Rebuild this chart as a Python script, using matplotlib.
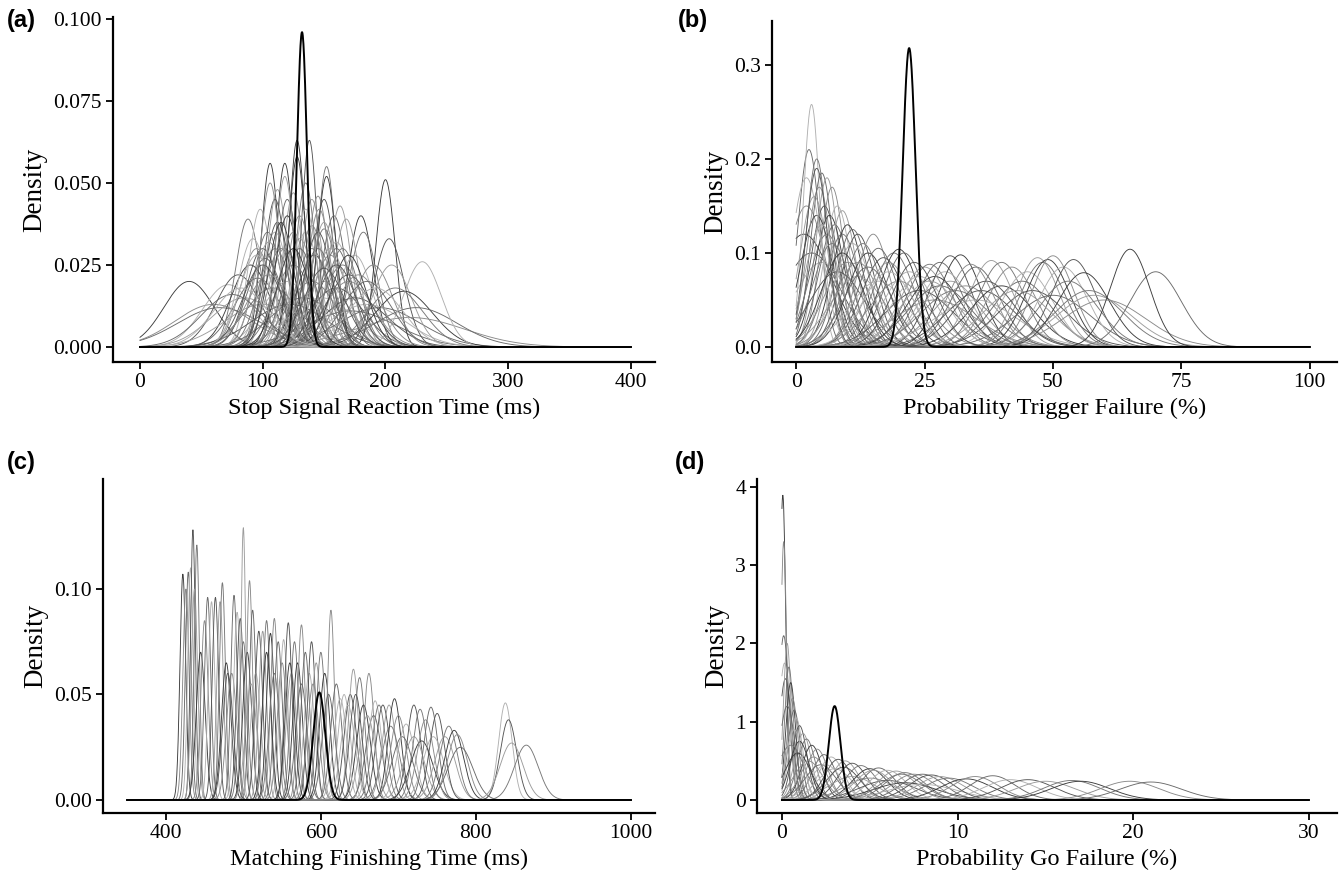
import math
import numpy as np
import matplotlib
matplotlib.use("Agg")
import matplotlib.pyplot as plt

# Peak position and peak height of each participant's posterior density,
# read off the picture. The highlighted (black) curve is kept separately.

# (a) Stop Signal Reaction Time (ms)
ssrt_peak = [40, 60, 65, 72, 80, 85, 88, 90, 95, 96,
             98, 100, 100, 104, 106, 106, 108, 110, 110, 112,
             115, 118, 118, 120, 120, 122, 125, 125, 128, 130,
             133, 135, 138, 140, 140, 142, 145, 145, 148, 150,
             150, 152, 152, 155, 158, 160, 160, 163, 165, 180,
             170, 172, 175, 175, 168, 182, 200, 190, 195, 185,
             203, 205, 208, 215, 220, 225, 230, 112, 130, 150,
             120, 140, 160, 92, 170, 118, 135, 128, 146, 102,
             95, 100, 105, 110, 115, 125, 130, 135, 145, 155,
             165, 170, 178, 185, 192, 160, 150, 140, 125, 105,
             75, 82, 150]
ssrt_height = [0.020, 0.013, 0.012, 0.019, 0.022, 0.015, 0.039, 0.025, 0.030, 0.021,
               0.042, 0.030, 0.013, 0.035, 0.056, 0.050, 0.018, 0.035, 0.045, 0.048,
               0.030, 0.056, 0.030, 0.045, 0.020, 0.013, 0.047, 0.025, 0.063, 0.040,
               0.015, 0.035, 0.063, 0.045, 0.020, 0.028, 0.046, 0.030, 0.015, 0.045,
               0.020, 0.055, 0.052, 0.028, 0.040, 0.032, 0.018, 0.043, 0.025, 0.040,
               0.020, 0.011, 0.028, 0.015, 0.039, 0.035, 0.051, 0.025, 0.012, 0.013,
               0.033, 0.025, 0.018, 0.017, 0.009, 0.012, 0.026, 0.038, 0.033, 0.036,
               0.040, 0.037, 0.030, 0.033, 0.022, 0.052, 0.050, 0.058, 0.042, 0.027,
               0.028, 0.025, 0.032, 0.030, 0.038, 0.035, 0.030, 0.042, 0.035, 0.030,
               0.030, 0.028, 0.022, 0.020, 0.018, 0.025, 0.038, 0.030, 0.030, 0.022,
               0.016, 0.018, 0.024]
ssrt_group = (132, 0.096)

# (b) Probability Trigger Failure (%)
tf_peak = [1.5, 2, 2.5, 3, 3, 3.5, 4, 4, 4.5, 5,
           5, 5.5, 6, 6, 6.5, 7, 7.5, 8, 8, 9,
           9, 10, 10, 11, 11, 12, 12, 13, 14, 15,
           16, 16, 17, 18, 19, 20, 20, 21, 22, 24,
           25, 26, 27, 27, 28, 29, 30, 30, 31, 32,
           33, 35, 35, 36, 38, 40, 40, 42, 44, 45,
           46, 47, 48, 49, 50, 50, 52, 54, 58, 57,
           56, 60, 70, 24, 37, 43, 53, 65, 34, 28,
           2, 4, 5, 7, 9, 12, 14, 18, 23, 26]
tf_height = [0.12, 0.15, 0.21, 0.258, 0.10, 0.16, 0.20, 0.14, 0.17, 0.185,
             0.09, 0.15, 0.18, 0.12, 0.14, 0.17, 0.13, 0.15, 0.08, 0.145,
             0.12, 0.13, 0.09, 0.125, 0.11, 0.12, 0.075, 0.11, 0.10, 0.12,
             0.105, 0.07, 0.095, 0.09, 0.10, 0.104, 0.07, 0.10, 0.08, 0.06,
             0.085, 0.088, 0.075, 0.05, 0.09, 0.08, 0.097, 0.07, 0.06, 0.098,
             0.065, 0.085, 0.05, 0.06, 0.092, 0.09, 0.065, 0.085, 0.07, 0.08,
             0.06, 0.095, 0.09, 0.093, 0.097, 0.055, 0.085, 0.093, 0.055, 0.06,
             0.079, 0.05, 0.08, 0.075, 0.07, 0.06, 0.07, 0.104, 0.088, 0.065,
             0.18, 0.19, 0.13, 0.11, 0.10, 0.09, 0.085, 0.08, 0.09, 0.07]
tf_group = (22, 0.318)

# (c) Matching Finishing Time (ms)
mft_peak = [422, 426, 429, 432, 435, 437, 440, 445, 450, 454,
            459, 464, 470, 473, 478, 485, 488, 492, 496, 500,
            500, 505, 508, 512, 516, 520, 525, 530, 535, 540,
            545, 552, 558, 562, 566, 570, 575, 580, 585, 588,
            594, 600, 605, 613, 620, 630, 638, 642, 650, 655,
            662, 668, 670, 680, 688, 690, 695, 700, 705, 710,
            720, 720, 728, 730, 735, 742, 745, 750, 760, 765,
            772, 776, 780, 838, 842, 846, 865, 530, 550, 575,
            625, 480, 510, 540, 560, 590, 610, 635, 645, 660,
            675]
mft_height = [0.107, 0.100, 0.108, 0.110, 0.128, 0.100, 0.121, 0.070, 0.085, 0.096,
              0.094, 0.096, 0.094, 0.103, 0.065, 0.060, 0.097, 0.089, 0.086, 0.129,
              0.075, 0.070, 0.104, 0.090, 0.060, 0.080, 0.080, 0.085, 0.079, 0.086,
              0.075, 0.076, 0.084, 0.060, 0.075, 0.065, 0.083, 0.070, 0.060, 0.075,
              0.065, 0.070, 0.060, 0.090, 0.055, 0.050, 0.050, 0.062, 0.058, 0.045,
              0.060, 0.040, 0.047, 0.045, 0.045, 0.035, 0.048, 0.040, 0.030, 0.036,
              0.045, 0.030, 0.043, 0.028, 0.038, 0.044, 0.030, 0.041, 0.030, 0.035,
              0.033, 0.031, 0.025, 0.046, 0.038, 0.027, 0.026, 0.070, 0.065, 0.055,
              0.048, 0.060, 0.055, 0.060, 0.065, 0.055, 0.050, 0.045, 0.050, 0.040,
              0.045]
mft_group = (598, 0.051)

# (d) Probability Go Failure (%)
gf_peak = [0.05, 0.1, 0.1, 0.15, 0.2, 0.3, 0.4, 0.5, 0.6, 0.7,
           0.8, 1.0, 1.2, 1.4, 1.7, 2.0, 2.4, 2.8, 3.2, 3.6,
           0.5, 0.9, 1.5, 2.2, 3.0, 4.0, 4.0, 4.5, 5.0, 5.0,
           5.5, 6.0, 6.0, 6.5, 7.0, 7.0, 7.5, 8.0, 8.0, 8.5,
           9.0, 9.5, 10.5, 11.0, 12.0, 13.0, 14.0, 15.0, 16.5, 17.0,
           19.8, 21.0, 2.5, 3.5, 5.2, 6.8, 1.0, 1.8, 0.3, 0.7]
gf_height = [3.9, 3.3, 2.1, 1.75, 1.55, 2.0, 1.7, 1.5, 1.3, 1.15,
             1.05, 0.95, 0.85, 0.78, 0.7, 0.65, 0.58, 0.55, 0.52, 0.5,
             0.7, 0.6, 0.5, 0.45, 0.4, 0.47, 0.3, 0.44, 0.4, 0.28,
             0.41, 0.38, 0.25, 0.37, 0.35, 0.22, 0.33, 0.33, 0.2, 0.32,
             0.30, 0.28, 0.27, 0.30, 0.31, 0.26, 0.26, 0.24, 0.25, 0.24,
             0.24, 0.23, 0.45, 0.42, 0.38, 0.33, 0.75, 0.55, 1.2, 0.9]
gf_group = (3.0, 1.2)


greys = ["#3c3c3c", "#8a8a8a", "#6a6a6a", "#b0b0b0", "#555555", "#9c9c9c", "#777777"]


def density(x, c, h, lo, hi):
    # bell curve with peak h at c, width chosen so the area on [lo, hi] is 1
    sd = 1 / (h * math.sqrt(2 * math.pi))
    for _ in range(40):
        frac = 0.5 * (math.erf((hi - c) / (sd * math.sqrt(2))) - math.erf((lo - c) / (sd * math.sqrt(2))))
        sd = 1 / (h * math.sqrt(2 * math.pi) * frac)
    return h * np.exp(-0.5 * ((x - c) / sd) ** 2)


W, H = 1341, 877
fig = plt.figure(figsize=(W / 100, H / 100), dpi=100)
serif = "Liberation Serif"


def panel(box, peaks, heights, group, rng, xlim, ylim, xticks, yticks, ylabels, xlabel, tag, tagpos):
    left, top, right, bottom = box
    ax = fig.add_axes([left / W, 1 - bottom / H, (right - left) / W, (bottom - top) / H])
    x = np.linspace(rng[0], rng[1], 1500)
    for i, (c, h) in enumerate(zip(peaks, heights)):
        ax.plot(x, density(x, c, h, rng[0], rng[1]), color=greys[i % len(greys)], lw=0.65)
    ax.plot(x, density(x, group[0], group[1], rng[0], rng[1]), color="black", lw=1.4)
    ax.set_xlim(*xlim)
    ax.set_ylim(*ylim)
    ax.set_xticks(xticks)
    ax.set_yticks(yticks)
    ax.set_yticklabels(ylabels)
    for s in ["top", "right"]:
        ax.spines[s].set_visible(False)
    for s in ["left", "bottom"]:
        ax.spines[s].set_linewidth(1.6)
    ax.tick_params(direction="out", length=5, width=1.3, labelsize=15.5, pad=3)
    for lab in ax.get_xticklabels() + ax.get_yticklabels():
        lab.set_fontfamily(serif)
    ax.set_xlabel(xlabel, fontsize=17.5, family=serif, labelpad=4)
    ax.set_ylabel("Density", fontsize=19.5, family=serif, labelpad=4)
    fig.text(tagpos[0] / W, 1 - tagpos[1] / H, tag, fontsize=17, fontweight="bold",
             family="Liberation Sans", va="center", ha="left")
    return ax


panel((113, 17, 655, 362), ssrt_peak, ssrt_height, ssrt_group, (0, 400),
      (-22, 419.6), (-0.00457, 0.1006), [0, 100, 200, 300, 400],
      [0, 0.025, 0.05, 0.075, 0.1], ["0.000", "0.025", "0.050", "0.075", "0.100"],
      "Stop Signal Reaction Time (ms)", "(a)", (7, 20))

panel((772, 21, 1337, 362), tf_peak, tf_height, tf_group, (0, 100),
      (-4.7, 105.3), (-0.016, 0.3468), [0, 25, 50, 75, 100],
      [0, 0.1, 0.2, 0.3], ["0.0", "0.1", "0.2", "0.3"],
      "Probability Trigger Failure (%)", "(b)", (678, 20))

panel((103, 479, 655, 813), mft_peak, mft_height, mft_group, (350, 1000),
      (319, 1031), (-0.00616, 0.1521), [400, 600, 800, 1000],
      [0, 0.05, 0.1], ["0.00", "0.05", "0.10"],
      "Matching Finishing Time (ms)", "(c)", (7, 462))

panel((757, 479, 1337, 813), gf_peak, gf_height, gf_group, (0, 30),
      (-1.42, 31.6), (-0.166, 4.102), [0, 10, 20, 30],
      [0, 1, 2, 3, 4], ["0", "1", "2", "3", "4"],
      "Probability Go Failure (%)", "(d)", (675, 462))

fig.savefig("out.png", dpi=100, facecolor="white")
